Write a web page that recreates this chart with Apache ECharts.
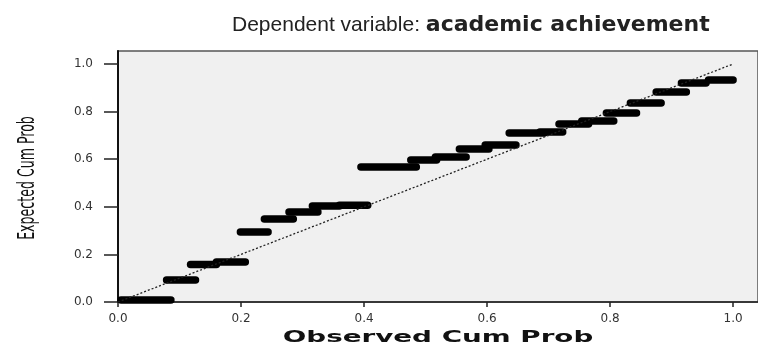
<!DOCTYPE html>
<html>
<head>
<meta charset="utf-8">
<script src="https://cdn.jsdelivr.net/npm/echarts@6/dist/echarts.min.js"></script>
<style>
html,body{margin:0;padding:0;background:#fff;}
#chart{width:758px;height:347px;}
</style>
</head>
<body>
<div id="chart"></div>
<script>
// Step clusters of the P-P plot (observed cum prob range -> expected cum prob)
const stepX0 = [0.005, 0.079, 0.118, 0.160, 0.199, 0.238, 0.278, 0.316, 0.360, 0.395, 0.476, 0.516, 0.555, 0.597, 0.636, 0.686, 0.717, 0.754, 0.794, 0.833, 0.875, 0.916, 0.960];
const stepX1 = [0.086, 0.126, 0.160, 0.207, 0.244, 0.285, 0.325, 0.360, 0.406, 0.485, 0.518, 0.566, 0.603, 0.647, 0.693, 0.723, 0.765, 0.806, 0.843, 0.883, 0.924, 0.956, 1.000];
const stepY  = [0.008, 0.092, 0.158, 0.168, 0.294, 0.349, 0.378, 0.403, 0.407, 0.567, 0.597, 0.609, 0.643, 0.660, 0.710, 0.714, 0.748, 0.761, 0.794, 0.836, 0.882, 0.920, 0.933];
const refLine = [[0, 0], [1, 1]];
const tickValues = [0, 0.2, 0.4, 0.6, 0.8, 1.0];

const titleNormal = 'Dependent variable: ';
const titleBold = 'academic achievement';
const xName = 'Observed Cum Prob';
const yName = 'Expected Cum Prob';

const chart = echarts.init(document.getElementById('chart'), null, {renderer: 'canvas'});

const series = [];
for (let i = 0; i < stepY.length; i++) {
  series.push({
    type: 'line',
    data: [[stepX0[i], stepY[i]], [stepX1[i], stepY[i]]],
    showSymbol: false,
    silent: true,
    lineStyle: {color: '#000', width: 7.5, cap: 'round'},
    z: 3
  });
}
series.push({
  type: 'line',
  data: refLine,
  showSymbol: false,
  silent: true,
  lineStyle: {color: '#222', width: 1.3, type: [2, 2]},
  z: 4
});

const fmt = v => v.toFixed(1);

chart.setOption({
  animation: false,
  backgroundColor: '#ffffff',
  title: {
    text: '{n|' + titleNormal + '}{b|' + titleBold + '}',
    left: 227,
    top: 9,
    textStyle: {
      fontWeight: 'normal',
      rich: {
        n: {fontFamily: 'Liberation Sans', fontSize: 21, fontWeight: 'normal', color: '#222'},
        b: {fontFamily: 'DejaVu Sans', fontSize: 22, fontWeight: 'bold', color: '#222'}
      }
    }
  },
  grid: {
    left: 118, right: -3, top: 51, bottom: 45,
    show: true, backgroundColor: '#f0f0f0', borderColor: '#555', borderWidth: 1.5
  },
  xAxis: {
    type: 'value', min: 0, max: 1.0405, interval: 0.2,
    axisLine: {show: true, lineStyle: {color: '#222', width: 1.5}},
    axisTick: {show: true, length: 5, lineStyle: {color: '#222', width: 1.5}},
    axisLabel: {show: true, margin: 11, color: '#333', fontFamily: 'DejaVu Sans', fontSize: 12, formatter: fmt, showMaxLabel: false},
    splitLine: {show: false}
  },
  yAxis: {
    type: 'value', min: 0, max: 1.0546, interval: 0.2,
    axisLine: {show: true, lineStyle: {color: '#111', width: 2}},
    axisTick: {show: true, length: 14, lineStyle: {color: '#222', width: 1.5}},
    axisLabel: {show: true, margin: 25, color: '#333', fontFamily: 'DejaVu Sans', fontSize: 12, formatter: fmt, showMaxLabel: false},
    splitLine: {show: false}
  },
  graphic: [
    {
      type: 'text', x: 438, y: 338, scaleX: 1.85,
      style: {text: xName, font: 'bold 15px "DejaVu Sans"', fill: '#111', align: 'center', verticalAlign: 'middle'}
    },
    {
      type: 'text', x: 28, y: 178, rotation: Math.PI / 2, scaleY: 1.7,
      style: {text: yName, font: '14px "Liberation Sans Narrow", "DejaVu Sans Condensed", sans-serif', fill: '#111', align: 'center', verticalAlign: 'middle'}
    }
  ],
  series: series
});
</script>
</body>
</html>
